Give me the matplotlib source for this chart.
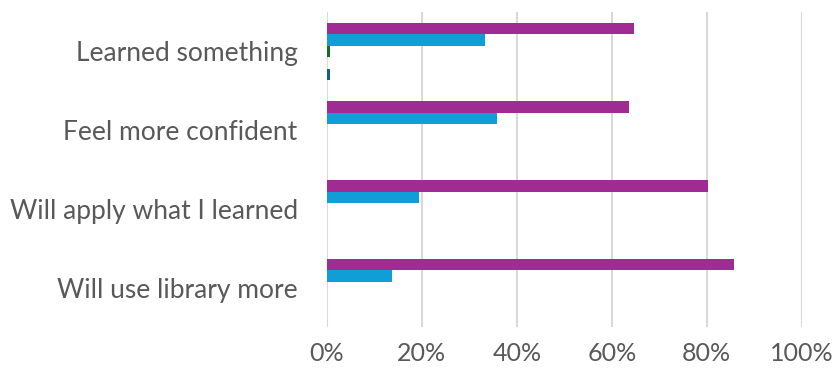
import numpy as np
import matplotlib.pyplot as plt
from matplotlib.ticker import PercentFormatter

plt.rcParams['font.family'] = ['Lato', 'DejaVu Sans']

# Survey categories (top to bottom)
categories = ["Learned something", "Feel more confident",
              "Will apply what I learned", "Will use library more"]

# Share of responses per category (percent)
strongly_agree = [64.6, 63.7, 80.3, 85.7]
agree = [33.4, 35.9, 19.4, 13.7]
neutral = [0.7, 0.0, 0.0, 0.0]
disagree = [0.0, 0.0, 0.0, 0.0]
strongly_disagree = [0.7, 0.0, 0.0, 0.0]

series = [strongly_agree, agree, neutral, disagree, strongly_disagree]
colors = ["#A02B93", "#0F9ED5", "#196B24", "#E97132", "#156082"]

fig = plt.figure(figsize=(8.36, 3.75), dpi=100)
ax = fig.add_axes([0.391, 0.128, 0.568, 0.84])

y = np.arange(len(categories))
h = 0.146
for k, (vals, c) in enumerate(zip(series, colors)):
    ax.barh(y + (k - 2) * h, np.array(vals) / 100, height=h, color=c, zorder=3)

ax.set_ylim(len(categories) - 0.5, -0.5)
ax.set_xlim(0, 1)
ax.set_xticks(np.arange(0, 1.01, 0.2))
ax.xaxis.set_major_formatter(PercentFormatter(1.0, decimals=0))
ax.set_yticks(y)
ax.set_yticklabels(categories)

ax.grid(axis='x', color='#d9d9d9', linewidth=1.5, zorder=0)
for s in ax.spines.values():
    s.set_visible(False)
ax.tick_params(length=0, colors='#595959')
ax.tick_params(axis='y', labelsize=19, pad=21)
ax.tick_params(axis='x', labelsize=18, pad=11)

plt.savefig("out.png")
